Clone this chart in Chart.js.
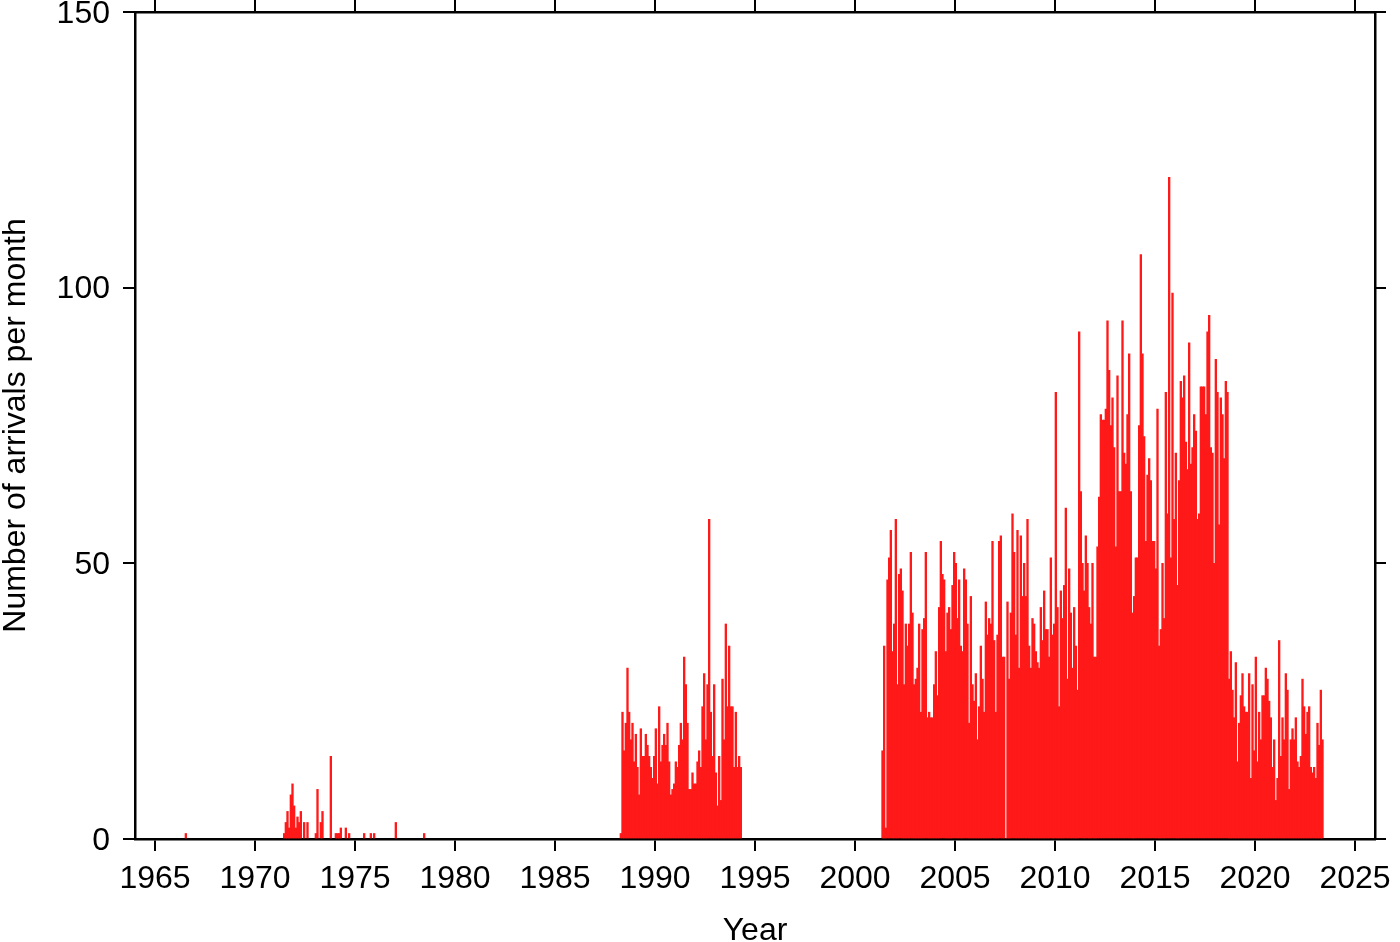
<!DOCTYPE html>
<html>
<head>
<meta charset="utf-8">
<script src="https://cdn.jsdelivr.net/npm/chart.js@4.4.1/dist/chart.umd.min.js"></script>
<style>
  html, body { margin: 0; padding: 0; background: #fff; }
  #wrap { width: 1400px; height: 942px; }
</style>
</head>
<body>
<div id="wrap"><canvas id="arrivalsChart" width="1400" height="942"></canvas></div>
<script>
// arrivals per month

// scattered months before 1988
const sparseMonths = ['1966-07',
  '1971-06', '1971-07', '1971-08', '1971-09', '1971-10', '1971-11', '1971-12',
  '1972-01', '1972-02', '1972-03', '1972-04', '1972-06', '1972-08',
  '1973-01', '1973-02', '1973-04', '1973-05', '1973-10',
  '1974-01', '1974-02', '1974-03', '1974-04', '1974-07', '1974-09',
  '1975-06', '1975-10', '1975-12', '1977-01', '1978-06'];
const sparseCounts = [1,
  1, 3, 5, 2, 8, 10, 6,
  2, 4, 3, 5, 3, 3,
  1, 9, 3, 5, 15,
  1, 1, 1, 2, 2, 1,
  1, 1, 1, 3, 1];

// continuous run Apr 1988 - Apr 1994
const block1988Start = '1988-04';
const block1988Counts = [
  1, 23, 16, 21, 31, 23, 18, 21, 14,
  19, 13, 8, 20, 15, 15, 19, 17, 15, 13, 11, 15,
  20, 10, 24, 14, 17, 19, 17, 21, 14, 8, 9, 10,
  14, 13, 17, 21, 18, 33, 28, 21, 9, 9, 12, 10,
  10, 14, 16, 13, 24, 30, 18, 28, 58, 23, 15, 28,
  12, 6, 15, 7, 29, 18, 39, 24, 35, 24, 24, 13,
  23, 13, 15, 13];

// continuous run May 2001 - May 2023
const block2001Start = '2001-05';
const block2001Counts = [
  16, 35, 2, 47, 51, 56, 34, 39,
  58, 28, 48, 49, 45, 28, 39, 35, 39, 52, 41, 28,
  29, 31, 39, 23, 38, 40, 52, 22, 23, 22, 22, 28,
  34, 26, 42, 54, 48, 47, 34, 41, 42, 38, 46, 52,
  50, 40, 47, 35, 34, 49, 47, 39, 21, 44, 28, 25,
  30, 18, 24, 35, 29, 23, 43, 37, 40, 39, 54, 36,
  23, 37, 54, 55, 33, 33, 0, 43, 29, 41, 59, 52,
  37, 56, 31, 55, 44, 50, 44, 58, 35, 31, 40, 39,
  34, 32, 31, 42, 36, 45, 38, 38, 33, 51, 37, 39,
  81, 42, 24, 45, 40, 46, 60, 29, 49, 41, 31, 42,
  35, 27, 92, 63, 50, 45, 55, 50, 42, 39, 50, 33,
  33, 53, 62, 77, 76, 76, 78, 94, 85, 75, 80, 71,
  53, 84, 63, 63, 94, 70, 68, 77, 88, 63, 41, 44,
  51, 51, 75, 106, 88, 73, 54, 66, 69, 65, 54, 54,
  49, 78, 35, 38, 50, 40, 81, 59, 120, 51, 99, 58,
  70, 46, 65, 83, 80, 84, 72, 67, 90, 68, 71, 77,
  74, 58, 59, 82, 82, 82, 77, 92, 95, 71, 70, 50,
  87, 81, 57, 80, 77, 69, 83, 81, 29, 34, 27, 22,
  32, 14, 21, 26, 30, 24, 23, 23, 30, 11, 28, 16,
  33, 14, 23, 18, 26, 26, 31, 29, 25, 22, 13, 18,
  7, 11, 36, 15, 22, 18, 30, 27, 9, 18, 20, 18,
  22, 14, 13, 15, 29, 24, 19, 23, 24, 13, 12, 13,
  11, 21, 17, 27, 18];

const yearTicks = [1965, 1970, 1975, 1980, 1985, 1990, 1995, 2000, 2005, 2010, 2015, 2020, 2025];
const countTicks = [0, 50, 100, 150];

// centre of a month, in decimal years
function monthX(label, offset) {
  const [yr, mo] = label.split('-').map(Number);
  return yr + (mo - 1 + offset + 0.5) / 12;
}

const points = [];
sparseMonths.forEach((m, i) => points.push({ x: monthX(m, 0), y: sparseCounts[i] }));
block1988Counts.forEach((v, i) => points.push({ x: monthX(block1988Start, i), y: v }));
block2001Counts.forEach((v, i) => points.push({ x: monthX(block2001Start, i), y: v }));

const fontFamily = "'Liberation Sans', Arial, Helvetica, sans-serif";
const tickFont = { family: fontFamily, size: 32 };

const frameGrid = {
  display: true, drawOnChartArea: false, drawTicks: true, offset: false,
  tickLength: 12, color: '#000', tickColor: '#000', lineWidth: 2, tickWidth: 2
};
const frameBorder = { display: true, color: '#000', width: 2.5 };

const setTicks = arr => axis => { axis.ticks = arr.map(v => ({ value: v })); };

// fixed box sizes, and no extra label overhang padding
const fixSize = (w, h) => axis => {
  if (w !== null) axis.width = w;
  if (h !== null) axis.height = h;
  axis.paddingTop = 0; axis.paddingBottom = 0;
  axis.paddingLeft = 0; axis.paddingRight = 0;
};

const ctx = document.getElementById('arrivalsChart').getContext('2d');
const arrivalsChart = new Chart(ctx, {
  type: 'bar',
  data: {
    datasets: [{
      label: 'Arrivals',
      data: points,
      backgroundColor: 'rgb(255, 25, 25)',
      borderWidth: 0,
      barPercentage: 1,
      categoryPercentage: 1
    }]
  },
  options: {
    responsive: false,
    animation: false,
    devicePixelRatio: 1,
    layout: { padding: { left: 0, top: 0, bottom: 0, right: 25 }, autoPadding: false },
    plugins: { legend: { display: false }, tooltip: { enabled: false } },
    scales: {
      x: {
        type: 'linear', position: 'bottom', min: 1964, max: 2026, offset: false,
        afterBuildTicks: setTicks(yearTicks),
        afterFit: fixSize(null, 103),
        grid: frameGrid, border: frameBorder,
        ticks: { font: tickFont, color: '#000', padding: 9, maxRotation: 0, autoSkip: false,
                 callback: v => String(v) },
        title: { display: true, text: 'Year', color: '#000', padding: 0,
                 font: { family: fontFamily, size: 32, lineHeight: 0.68 } }
      },
      xTop: {
        type: 'linear', position: 'top', min: 1964, max: 2026, offset: false,
        afterBuildTicks: setTicks(yearTicks),
        afterFit: fixSize(null, 12),
        grid: frameGrid, border: frameBorder,
        ticks: { display: false }
      },
      y: {
        type: 'linear', position: 'left', min: 0, max: 150,
        afterBuildTicks: setTicks(countTicks),
        afterFit: fixSize(135, null),
        grid: frameGrid, border: frameBorder,
        ticks: { font: tickFont, color: '#000', padding: 13, labelOffset: 2,
                 callback: v => String(v) },
        title: { display: true, text: 'Number of arrivals per month', color: '#000', padding: 0,
                 font: { family: fontFamily, size: 32, lineHeight: 1 } }
      },
      yRight: {
        type: 'linear', position: { x: 2026 }, min: 0, max: 150,
        afterBuildTicks: setTicks(countTicks),
        grid: Object.assign({}, frameGrid, { tickLength: -12 }),
        border: frameBorder,
        ticks: { display: false }
      }
    }
  }
});
</script>
</body>
</html>
